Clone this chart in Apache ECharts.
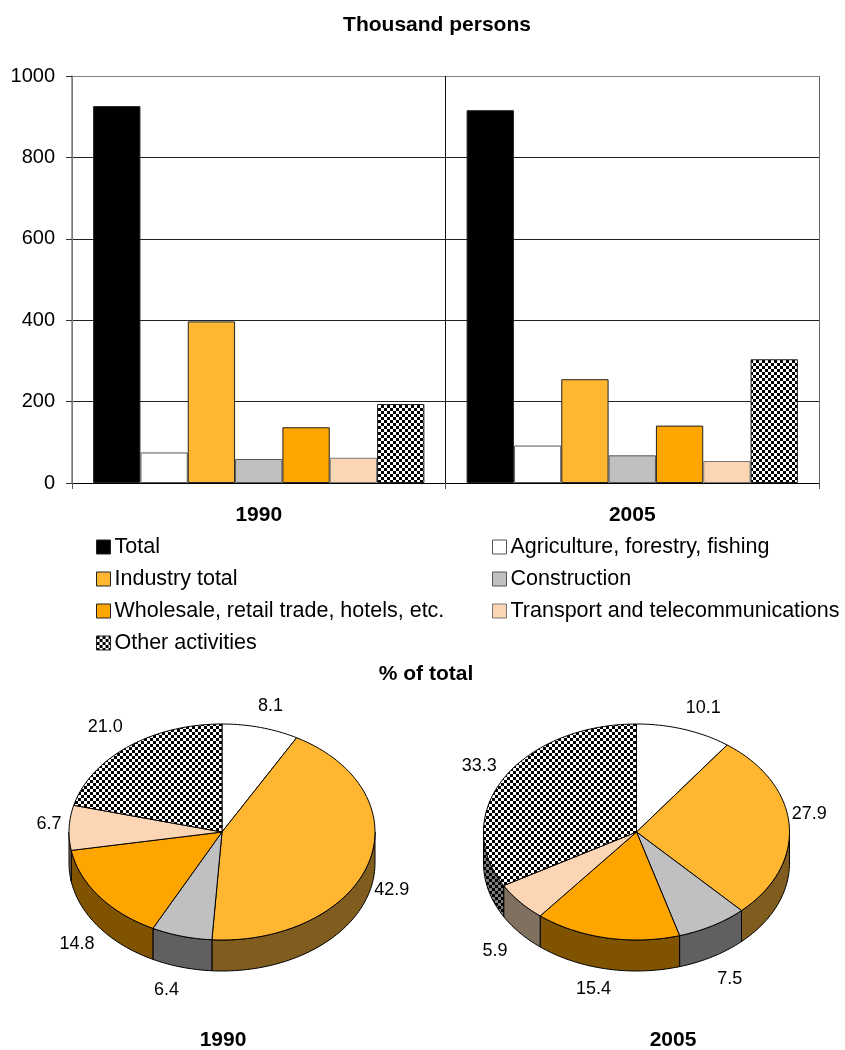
<!DOCTYPE html>
<html><head><meta charset="utf-8">
<style>html,body{margin:0;padding:0;background:#fff}#c{width:845px;height:1050px}</style>
<script src="https://cdn.jsdelivr.net/npm/echarts@6/dist/echarts.min.js"></script>
</head><body><div id="c"></div>
<script>
const years = ['1990', '2005'];
const total = [926, 916];
const agriculture = [75, 92];
const industry = [397, 255];
const construction = [59, 68];
const wholesale = [137, 141];
const transport = [62, 54];
const other = [194, 304];
const yTicks = [0, 200, 400, 600, 800, 1000];
const sectorNames = ['Agriculture, forestry, fishing', 'Industry total', 'Construction', 'Wholesale, retail trade, hotels, etc.', 'Transport and telecommunications', 'Other activities'];
const share1990 = [8.1, 42.9, 6.4, 14.8, 6.7, 21.0];
const share2005 = [10.1, 27.9, 7.5, 15.4, 5.9, 33.3];

const FONT = '"Liberation Sans", Arial, sans-serif';
const topColors = ['#FFFFFF', '#FFB732', '#C0C0C0', '#FFA500', '#FCD5B4', null];
const wallColors = ['#808080', '#805C1F', '#606060', '#805300', '#80705F', null];
// offsets of each value label from the rim point at the slice's middle angle
const labelOffset1990 = [[10,-21],[23,27],[-15,54],[-22,48],[-20,-4],[-23,-20]];
const labelOffset2005 = [[19,-21],[20,-11],[17,53],[-13,51],[-25,49],[-25,-12]];

function checker(a, b, cell) {
  const cv = document.createElement('canvas');
  cv.width = cv.height = cell * 2;
  const g = cv.getContext('2d');
  g.fillStyle = b; g.fillRect(0, 0, cell * 2, cell * 2);
  g.fillStyle = a; g.fillRect(0, 0, cell, cell); g.fillRect(cell, cell, cell, cell);
  return { image: cv, repeat: 'repeat' };
}
const patTop = checker('#000000', '#FFFFFF', 3);
const patWall = checker('#000000', '#808080', 3);

function pieSeries(values, cx, offsets, name) {
  const rx = 153, ry = 108, cy = 832, depth = 31;
  const sum = values.reduce((a, b) => a + b, 0);
  const pt = (deg, dy) => {
    const r = deg * Math.PI / 180;
    return [cx + rx * Math.sin(r), cy + (dy || 0) - ry * Math.cos(r)];
  };
  const arc = (a, b, dy) => {
    const pts = [], n = Math.max(2, Math.ceil(Math.abs(b - a) / 1.5));
    for (let i = 0; i <= n; i++) pts.push(pt(a + (b - a) * i / n, dy));
    return pts;
  };
  const borders = { stroke: '#000', lineWidth: 1 };
  let cum = 0;
  const starts = values.map(v => { const s = cum; cum += v; return s; });
  return {
    type: 'custom', name: name, coordinateSystem: 'none', silent: true,
    data: values, z: 3,
    encode: { value: 0 },
    renderItem(params, api) {
      const i = params.dataIndex, v = api.value(0);
      const a0 = starts[i] / sum * 360, a1 = (starts[i] + v) / sum * 360;
      const children = [];
      const w0 = Math.max(a0, 90), w1 = Math.min(a1, 270);
      if (w1 > w0) {
        const pts = arc(w0, w1, 0).concat(arc(w1, w0, depth));
        children.push({ type: 'polygon', z2: 1, shape: { points: pts },
          style: Object.assign({ fill: i === 5 ? patWall : wallColors[i] }, borders) });
      }
      const top = [[cx, cy]].concat(arc(a0, a1, 0));
      children.push({ type: 'polygon', z2: 2, shape: { points: top },
        style: Object.assign({ fill: i === 5 ? patTop : topColors[i] }, borders) });
      const mid = pt((a0 + a1) / 2, 0);
      children.push({ type: 'text', z2: 3, x: mid[0] + offsets[i][0], y: mid[1] + offsets[i][1],
        style: { text: v.toFixed(1), fill: '#000', font: '18px ' + FONT, align: 'center', verticalAlign: 'middle' } });
      return { type: 'group', children };
    }
  };
}

function barSeries(name, data, color, border) {
  return { type: 'bar', name, data, barGap: 0, barCategoryGap: '11.3%', z: 2,
    itemStyle: { color, borderColor: border || '#222', borderWidth: 1 }, emphasis: { disabled: true } };
}
const legendText = { fontFamily: FONT, fontSize: 21.5, lineHeight: 24, color: '#000', padding: [0, 0, 0, -1] };
const titleStyle = { fontFamily: FONT, fontSize: 21, fontWeight: 'bold', color: '#000' };
const mkTitle = (text, x, y) => ({ text, left: x, top: y, padding: 0, textAlign: 'center', textVerticalAlign: 'middle', textStyle: titleStyle });
const chart = echarts.init(document.getElementById('c'), null, { renderer: 'canvas' });
chart.setOption({
  animation: false,
  backgroundColor: '#fff',
  title: [
    mkTitle('Thousand persons', 437, 25),
    mkTitle('% of total', 426, 674),
    mkTitle(years[0], 223, 1040),
    mkTitle(years[1], 673, 1040)
  ],
  legend: [
    { left: 96, top: 535, padding: 0, orient: 'vertical', itemGap: 8, itemWidth: 14, itemHeight: 14, selectedMode: false, textStyle: legendText, itemStyle: { borderWidth: 1 }, icon: 'rect',
      data: ['Total', sectorNames[1], sectorNames[3], sectorNames[5]] },
    { left: 492, top: 535, padding: 0, orient: 'vertical', itemGap: 8, itemWidth: 14, itemHeight: 14, selectedMode: false, textStyle: legendText, itemStyle: { borderWidth: 1 }, icon: 'rect',
      data: [sectorNames[0], sectorNames[2], sectorNames[4]] }
  ],
  grid: { left: 72, right: 26, top: 76, height: 407, containLabel: false },
  xAxis: {
    type: 'category', data: years,
    axisLine: { show: true, lineStyle: { color: '#000', width: 1 } },
    axisTick: { show: true, length: 6, alignWithLabel: false, lineStyle: { color: '#555' } },
    splitLine: { show: true, lineStyle: { color: ['#666666', '#111111', '#666666'], width: 1 } },
    axisLabel: { fontFamily: FONT, fontSize: 21, fontWeight: 'bold', color: '#000', margin: 22 }
  },
  yAxis: {
    type: 'value', min: yTicks[0], max: yTicks[yTicks.length - 1], interval: yTicks[1] - yTicks[0],
    axisLine: { show: true, lineStyle: { color: '#808080', width: 1.5 } },
    axisTick: { show: true, length: 6, lineStyle: { color: '#333' } },
    splitLine: { show: true, lineStyle: { color: ['#222', '#222', '#222', '#222', '#222', '#808080'], width: 1 } },
    axisLabel: { fontFamily: FONT, fontSize: 20, color: '#000', margin: 17, formatter: v => String(v) }
  },
  series: [
    barSeries('Total', total, '#000000'),
    barSeries(sectorNames[0], agriculture, '#FFFFFF', '#555'),
    barSeries(sectorNames[1], industry, '#FFB732'),
    barSeries(sectorNames[2], construction, '#C0C0C0', '#555'),
    barSeries(sectorNames[3], wholesale, '#FFA500'),
    barSeries(sectorNames[4], transport, '#FCD5B4', '#777'),
    barSeries(sectorNames[5], other, checker('#000000', '#FFFFFF', 3)),
    pieSeries(share1990, 222, labelOffset1990, 'Share 1990'),
    pieSeries(share2005, 636.5, labelOffset2005, 'Share 2005')
  ]
});
</script></body></html>
